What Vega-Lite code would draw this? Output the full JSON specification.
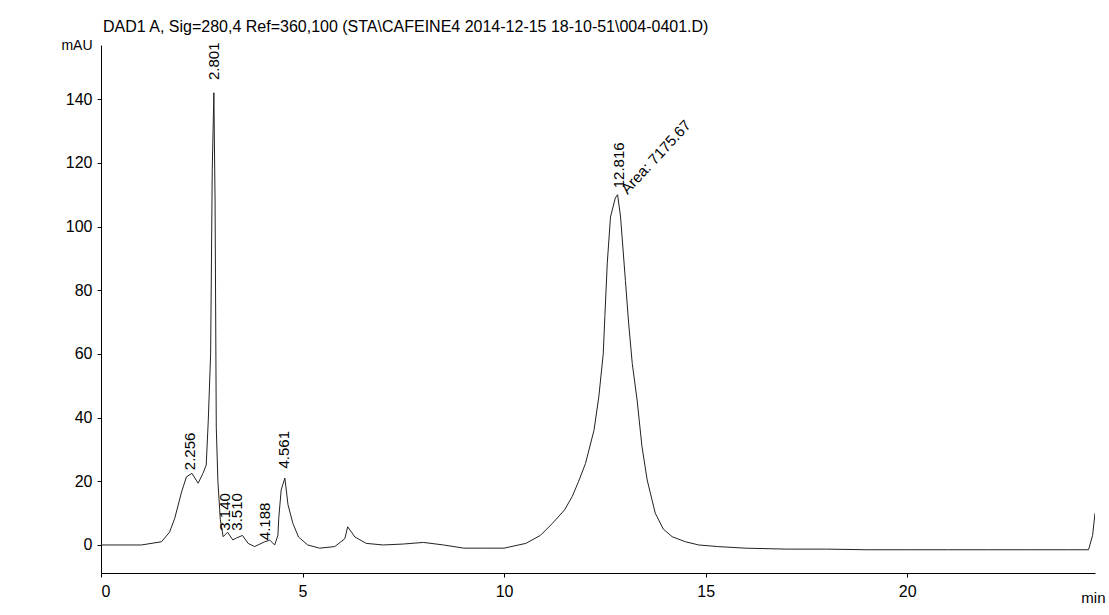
{
  "$schema": "https://vega.github.io/schema/vega-lite/v6.json",
  "width": 994,
  "height": 528,
  "autosize": {"type": "none"},
  "padding": {"left": 101, "top": 45, "right": 14, "bottom": 42},
  "background": "white",
  "title": {
    "text": "DAD1 A, Sig=280,4 Ref=360,100 (STA\\CAFEINE4 2014-12-15 18-10-51\\004-0401.D)",
    "anchor": "start",
    "frame": "group",
    "font": "Liberation Sans",
    "fontSize": 16,
    "fontWeight": "normal",
    "color": "black",
    "offset": 3,
    "dx": 2
  },
  "datasets": {
    "signal": [
      {"t": 0.0, "mAU": 0}, {"t": 1.0, "mAU": 0}, {"t": 1.5, "mAU": 1}, {"t": 1.7, "mAU": 4},
      {"t": 1.83, "mAU": 8.4}, {"t": 2.0, "mAU": 16.7}, {"t": 2.12, "mAU": 21.4}, {"t": 2.256, "mAU": 22.5},
      {"t": 2.41, "mAU": 19.4}, {"t": 2.53, "mAU": 22.5}, {"t": 2.61, "mAU": 25.1}, {"t": 2.66, "mAU": 38.7},
      {"t": 2.72, "mAU": 60}, {"t": 2.76, "mAU": 118}, {"t": 2.8, "mAU": 142}, {"t": 2.83, "mAU": 108},
      {"t": 2.86, "mAU": 37}, {"t": 2.9, "mAU": 20}, {"t": 2.96, "mAU": 8}, {"t": 3.03, "mAU": 2.6},
      {"t": 3.14, "mAU": 4}, {"t": 3.27, "mAU": 1.6}, {"t": 3.36, "mAU": 2.2}, {"t": 3.51, "mAU": 3},
      {"t": 3.65, "mAU": 0.5}, {"t": 3.81, "mAU": -0.5}, {"t": 4.06, "mAU": 1}, {"t": 4.188, "mAU": 1.5},
      {"t": 4.31, "mAU": 0}, {"t": 4.39, "mAU": 3.1}, {"t": 4.41, "mAU": 8.4}, {"t": 4.47, "mAU": 17.3},
      {"t": 4.561, "mAU": 21}, {"t": 4.64, "mAU": 12.6}, {"t": 4.76, "mAU": 6.8}, {"t": 4.9, "mAU": 2.5},
      {"t": 5.13, "mAU": 0}, {"t": 5.42, "mAU": -1}, {"t": 5.8, "mAU": -0.5}, {"t": 6.05, "mAU": 2},
      {"t": 6.12, "mAU": 5.7}, {"t": 6.3, "mAU": 2.5}, {"t": 6.58, "mAU": 0.5}, {"t": 7.0, "mAU": 0},
      {"t": 7.5, "mAU": 0.3}, {"t": 8.0, "mAU": 0.8}, {"t": 8.5, "mAU": 0}, {"t": 9.0, "mAU": -1},
      {"t": 9.5, "mAU": -1}, {"t": 10.0, "mAU": -1}, {"t": 10.54, "mAU": 0.5}, {"t": 10.9, "mAU": 3},
      {"t": 11.2, "mAU": 6.8}, {"t": 11.5, "mAU": 11}, {"t": 11.69, "mAU": 15.2}, {"t": 11.85, "mAU": 20},
      {"t": 12.02, "mAU": 25.6}, {"t": 12.23, "mAU": 36}, {"t": 12.35, "mAU": 46.5}, {"t": 12.46, "mAU": 60},
      {"t": 12.5, "mAU": 71.7}, {"t": 12.56, "mAU": 88.5}, {"t": 12.64, "mAU": 103}, {"t": 12.76, "mAU": 109},
      {"t": 12.816, "mAU": 110}, {"t": 12.89, "mAU": 103}, {"t": 13.01, "mAU": 83}, {"t": 13.09, "mAU": 69.7},
      {"t": 13.18, "mAU": 57}, {"t": 13.3, "mAU": 45.5}, {"t": 13.42, "mAU": 31}, {"t": 13.55, "mAU": 20.4},
      {"t": 13.75, "mAU": 10}, {"t": 13.95, "mAU": 5}, {"t": 14.17, "mAU": 2.6}, {"t": 14.5, "mAU": 1},
      {"t": 14.83, "mAU": 0}, {"t": 15.3, "mAU": -0.5}, {"t": 15.98, "mAU": -1}, {"t": 17.0, "mAU": -1.3},
      {"t": 18.0, "mAU": -1.3}, {"t": 19.0, "mAU": -1.5}, {"t": 20.0, "mAU": -1.5}, {"t": 21.0, "mAU": -1.5},
      {"t": 22.0, "mAU": -1.5}, {"t": 23.0, "mAU": -1.5}, {"t": 24.0, "mAU": -1.5}, {"t": 24.5, "mAU": -1.5},
      {"t": 24.6, "mAU": 3}, {"t": 24.66, "mAU": 10}
    ],
    "peaks": [
      {"t": 2.2, "ly": 23.5, "label": "2.256"},
      {"t": 2.8, "ly": 146, "label": "2.801"},
      {"t": 3.08, "ly": 4.5, "label": "3.140"},
      {"t": 3.38, "ly": 4.5, "label": "3.510"},
      {"t": 4.06, "ly": 1.5, "label": "4.188"},
      {"t": 4.55, "ly": 24, "label": "4.561"},
      {"t": 12.84, "ly": 112, "label": "12.816"}
    ],
    "area": [
      {"t": 12.97, "ly": 111, "label": "Area: 7175.67"}
    ]
  },
  "layer": [
    {
      "data": {"name": "signal"},
      "mark": {"type": "line", "color": "#222", "strokeWidth": 1, "clip": true},
      "encoding": {
        "x": {
          "field": "t", "type": "quantitative",
          "scale": {"domain": [0, 24.66], "nice": false, "zero": false},
          "axis": {
            "values": [0, 5, 10, 15, 20],
            "title": "min",
            "titleX": 1004, "titleY": 32, "titleAlign": "right", "titleBaseline": "bottom",
            "titleFont": "Liberation Sans", "titleFontSize": 15, "titleFontWeight": "normal"
          }
        },
        "y": {
          "field": "mAU", "type": "quantitative",
          "scale": {"domain": [-8.8, 157], "nice": false, "zero": false},
          "axis": {
            "values": [0, 20, 40, 60, 80, 100, 120, 140],
            "title": "mAU",
            "titleAngle": 0, "titleX": -9, "titleY": 0, "titleAlign": "right", "titleBaseline": "middle",
            "titleFont": "Liberation Sans", "titleFontSize": 14, "titleFontWeight": "normal"
          }
        }
      }
    },
    {
      "data": {"name": "peaks"},
      "mark": {"type": "text", "angle": 270, "align": "left", "baseline": "middle", "font": "Liberation Sans", "fontSize": 15, "color": "black"},
      "encoding": {
        "x": {"field": "t", "type": "quantitative"},
        "y": {"field": "ly", "type": "quantitative"},
        "text": {"field": "label"}
      }
    },
    {
      "data": {"name": "area"},
      "mark": {"type": "text", "angle": 313, "align": "left", "baseline": "middle", "font": "Liberation Sans", "fontSize": 15, "color": "black"},
      "encoding": {
        "x": {"field": "t", "type": "quantitative"},
        "y": {"field": "ly", "type": "quantitative"},
        "text": {"field": "label"}
      }
    }
  ],
  "config": {
    "view": {"stroke": null},
    "axis": {
      "grid": false,
      "domainColor": "black",
      "domainWidth": 1,
      "tickColor": "black",
      "tickSize": 4,
      "labelFont": "Liberation Sans",
      "labelFontSize": 16,
      "labelColor": "black",
      "titleColor": "black"
    },
    "axisX": {"labelPadding": 6},
    "axisY": {"labelPadding": 5}
  }
}
